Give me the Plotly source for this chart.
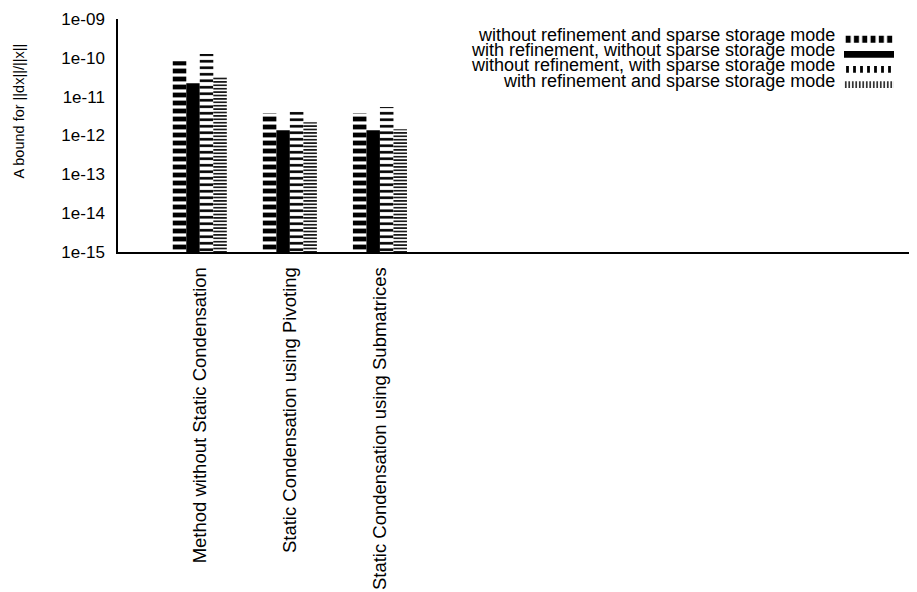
import plotly.graph_objects as go

# ---- data ----
categories = [
    "Method without Static Condensation",
    "Static Condensation using Pivoting",
    "Static Condensation using Submatrices",
]
series_names = [
    "without refinement and sparse storage mode",
    "with refinement, without sparse storage mode",
    "without refinement, with sparse storage mode",
    "with refinement and sparse storage mode",
]
s_norefine_sparse = [8.2e-11, 3.8e-12, 3.8e-12]
s_refine_nosparse = [2.2e-11, 1.37e-12, 1.37e-12]
s_norefine_withsparse = [1.25e-10, 4.1e-12, 5.4e-12]
s_refine_sparse = [3.2e-11, 2.2e-12, 1.45e-12]
series_values = [s_norefine_sparse, s_refine_nosparse, s_norefine_withsparse, s_refine_sparse]

y_tickvals = [1e-15, 1e-14, 1e-13, 1e-12, 1e-11, 1e-10, 1e-09]
y_ticktext = ["1e-15", "1e-14", "1e-13", "1e-12", "1e-11", "1e-10", "1e-09"]
y_title = "A bound for ||dx||/||x||"

# ---- styles ----
FONT = "Liberation Sans, Arial, sans-serif"
bar_patterns = [
    dict(shape="-", size=8, solidity=0.6),
    dict(shape="", size=8, solidity=1.0),
    dict(shape="-", size=6.5, solidity=0.4),
    dict(shape="-", size=3.4, solidity=0.45),
]
legend_patterns = [
    dict(shape="|", size=8.3, solidity=0.6),
    dict(shape="", size=8, solidity=1.0),
    dict(shape="|", size=7, solidity=0.4),
    dict(shape="|", size=3.5, solidity=0.4),
]

# page offset (browser body margin) and plot area in screenshot pixels
OFF = 8
W, H = 917 - OFF, 592 - OFF
L, R, T, B = 118, 915, 15, 254

def px_x(x):
    return (x - L) / (R - L)

def px_y(y):
    return (B - y) / (B - T)

fig = go.Figure()

for name, vals, pat in zip(series_names, series_values, bar_patterns):
    p = dict(pat)
    p.update(fgcolor="black", bgcolor="white", fillmode="replace")
    fig.add_trace(go.Bar(
        x=categories, y=vals, name=name,
        marker=dict(color="black", line=dict(width=0), pattern=p),
        showlegend=False,
    ))

# legend swatches (drawn on an auxiliary axis pair)
for name, pat in zip(series_names, legend_patterns):
    p = dict(pat)
    p.update(fgcolor="black", bgcolor="white", fillmode="replace")
    fig.add_trace(go.Bar(
        x=[1], y=[name], orientation="h", xaxis="x2", yaxis="y2",
        marker=dict(color="black", line=dict(width=0), pattern=p),
        width=0.45, showlegend=False, hoverinfo="skip",
    ))

legend_row_px = [31, 47, 62.5, 78.5]
annotations = []
for name, ypx in zip(series_names, legend_row_px):
    annotations.append(dict(
        text=name, xref="paper", yref="paper",
        x=px_x(837), y=px_y(ypx), xanchor="right", yanchor="middle",
        showarrow=False, font=dict(family=FONT, size=18, color="black"),
    ))
annotations.append(dict(
    text=y_title, xref="paper", yref="paper", textangle=-90,
    x=px_x(19), y=px_y(110), xanchor="center", yanchor="middle",
    showarrow=False, font=dict(family=FONT, size=14.5, color="black"),
))

fig.update_layout(
    width=W, height=H,
    margin=dict(l=L - OFF, r=W - (R - OFF), t=T - OFF, b=H - (B - OFF), pad=0),
    paper_bgcolor="white", plot_bgcolor="white",
    barmode="group", bargap=0.4, bargroupgap=0,
    font=dict(family=FONT, size=18, color="black"),
    showlegend=False,
    annotations=annotations,
    xaxis=dict(
        type="category", range=[-0.908, 7.94],
        showline=True, linecolor="black", linewidth=1.5,
        showgrid=False, zeroline=False, ticks="",
        tickangle=-90, ticklabelstandoff=6,
        ticklabeloverflow="allow",
        tickfont=dict(family=FONT, size=18.5, color="black"),
    ),
    yaxis=dict(
        type="log", range=[-15, -9],
        tickvals=y_tickvals, ticktext=y_ticktext,
        showline=True, linecolor="black", linewidth=1.5,
        showgrid=False, zeroline=False, ticks="",
        ticklabelstandoff=8, ticklabeloverflow="allow",
        tickfont=dict(family=FONT, size=17, color="black"),
    ),
    xaxis2=dict(
        domain=[px_x(844), px_x(894)], range=[0, 1], anchor="y2",
        visible=False, fixedrange=True,
    ),
    yaxis2=dict(
        domain=[px_y(90), px_y(28)], anchor="x2",
        type="category", categoryorder="array", categoryarray=series_names,
        range=[3.5, -0.5], visible=False, fixedrange=True,
    ),
)

fig.write_html("out.html")
